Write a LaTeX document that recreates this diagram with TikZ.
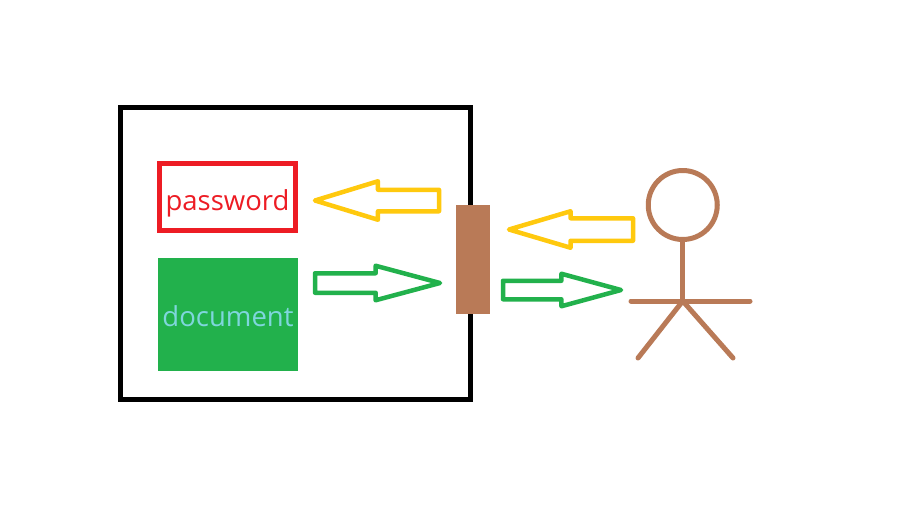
\documentclass[tikz,border=0pt]{standalone}
\usepackage{fontspec}
\setmainfont{Open Sans}
\usetikzlibrary{shapes.arrows}
\definecolor{doorbrown}{HTML}{B97A57}
\definecolor{pwdred}{HTML}{ED1C24}
\definecolor{docgreen}{HTML}{22B14C}
\definecolor{reqyellow}{HTML}{FFC90E}
\definecolor{doctext}{HTML}{7FD6DC}
\begin{document}
\begin{tikzpicture}[x=1pt,y=-1pt,
    label text/.style ={font=\fontsize{27.5}{30}\selectfont,inner sep=0pt,outer sep=0pt,text depth=0pt},
    flow/.style ={single arrow, draw, line width=4.5pt, inner xsep=0pt, outer sep=0pt, line join=round,
      anchor=tip},
    limb/.style ={draw=doorbrown, line width=5pt, line cap=round}]
   \useasboundingbox (0,0) rectangle (912,509);
   \fill[white] (0,0) rectangle (912,509);
   % safe
   \node[draw=black, line width=5pt, minimum width=350pt, minimum height=292pt, inner sep=0pt, outer sep=0pt] (safe) at (295.75,253.5) {};
   \node[draw=pwdred, line width=5pt, minimum width=136pt, minimum height=66.5pt, label text, text height=26.5pt, text=pwdred] (password) at (227.5,196.75) {password};
   \node[fill=docgreen, minimum width=140pt, minimum height=113pt, label text, text height=24.4pt, text=doctext] (document) at (228,314.5) {document};
   % door
   \node[fill=doorbrown, minimum width=34pt, minimum height=109pt, inner sep=0pt] (door) at (473,259.5) {};
   % arrows
   \node[flow, draw=reqyellow, minimum height=124pt, inner ysep=8.5pt, single arrow head extend=8.5pt, single arrow tip angle=34, shape border rotate=180] (reqin) at (315,200.5) {};
   \node[flow, draw=docgreen, minimum height=125pt, inner ysep=7.5pt, single arrow head extend=7.5pt, single arrow tip angle=30, ] (docout) at (440,283) {};
   \node[flow, draw=reqyellow, minimum height=124pt, inner ysep=9pt, single arrow head extend=7pt, single arrow tip angle=33, shape border rotate=180] (reqout) at (509,229.5) {};
   \node[flow, draw=docgreen, minimum height=118pt, inner ysep=7pt, single arrow head extend=7pt, single arrow tip angle=30.5] (docuser) at (621,290) {};
   % person
   \node[circle, draw=doorbrown, line width=5pt, minimum size=69pt, inner sep=0pt, outer sep=0pt] (head) at (682.75,205) {};
   \coordinate (hip) at (682.75,301);
   \coordinate (handL) at (631,301);
   \coordinate (handR) at (750,301);
   \coordinate (footL) at (638,358);
   \coordinate (footR) at (733,358);
   \draw[limb] (head) -- (hip);
   \draw[limb] (handL) -- (handR);
   \draw[limb] (hip) -- (footL);
   \draw[limb] (hip) -- (footR);
\end{tikzpicture}
\end{document}
